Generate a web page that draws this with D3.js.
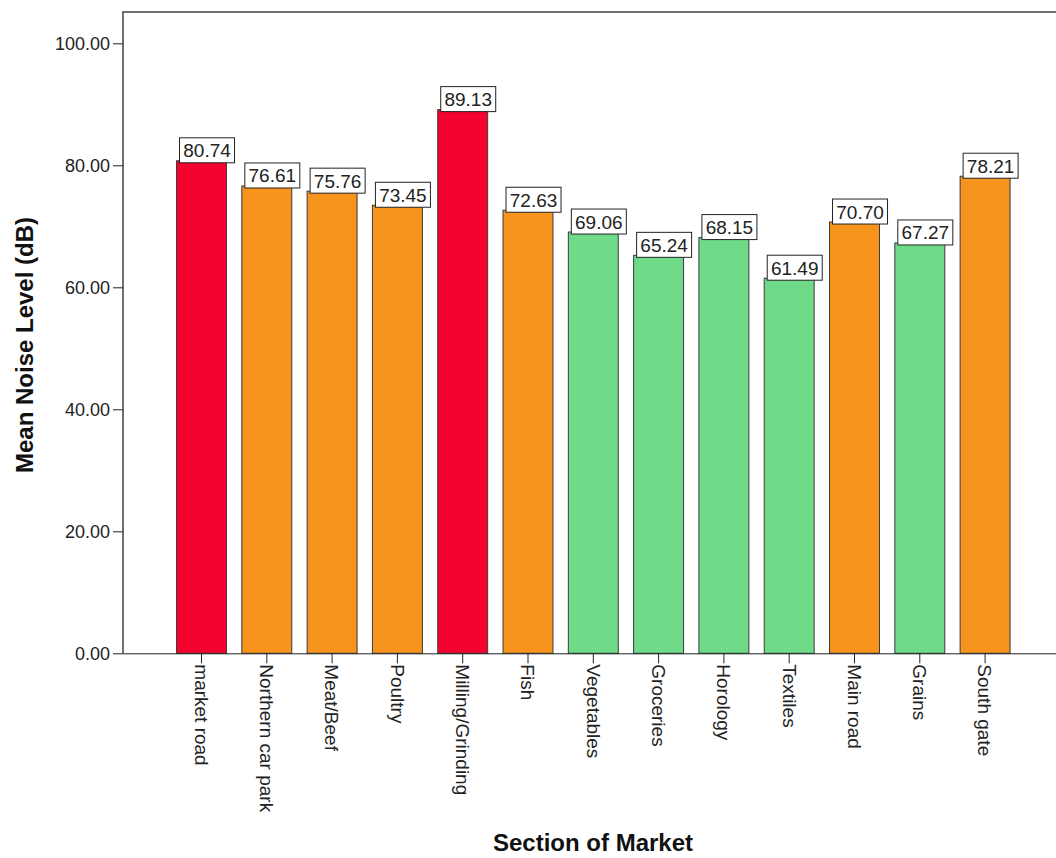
<!DOCTYPE html>
<html>
<head>
<meta charset="utf-8">
<script src="https://cdn.jsdelivr.net/npm/d3@7"></script>
<style>
  html, body { margin: 0; padding: 0; background: #fff; }
  svg { display: block; font-family: Arial, "Liberation Sans", sans-serif; }
</style>
</head>
<body>
<svg id="chart" width="1056" height="858"></svg>
<script>
const sections = [
  "market road", "Northern car park", "Meat/Beef", "Poultry", "Milling/Grinding",
  "Fish", "Vegetables", "Groceries", "Horology", "Textiles", "Main road", "Grains", "South gate"
];
const meanNoise = [80.74, 76.61, 75.76, 73.45, 89.13, 72.63, 69.06, 65.24, 68.15, 61.49, 70.70, 67.27, 78.21];
const noiseBand = ["high", "mid", "mid", "mid", "high", "mid", "low", "low", "low", "low", "mid", "low", "mid"];
const yTicks = [0, 20, 40, 60, 80, 100];

const bandColor = { high: "#f4032f", mid: "#f7941e", low: "#6fda88" };
const font = "Arial, 'Liberation Sans', sans-serif";

const svg = d3.select("#chart");
const frameLeft = 123, frameTop = 12, frameRight = 1056;

const y = d3.scaleLinear().domain([0, 100]).range([653.3, 43.3]);
const step = 65.3;
const x = d3.scaleBand()
  .domain(sections)
  .range([201.5 - step / 2, 201.5 + step * 12.5])
  .paddingInner(0.235)
  .paddingOuter(0.1175);

// frame
svg.append("path")
  .attr("d", `M${frameLeft},${y(0)}V${frameTop}H${frameRight}`)
  .attr("fill", "none")
  .attr("stroke", "#707070")
  .attr("stroke-width", 2);

// bars
svg.append("g")
  .selectAll("rect")
  .data(sections)
  .join("rect")
  .attr("x", d => x(d))
  .attr("y", (d, i) => y(meanNoise[i]))
  .attr("width", x.bandwidth())
  .attr("height", (d, i) => y(0) - y(meanNoise[i]))
  .attr("fill", (d, i) => bandColor[noiseBand[i]])
  .attr("stroke", "#3a3a3a")
  .attr("stroke-width", 1);

// y axis
const yAxis = svg.append("g")
  .attr("transform", `translate(${frameLeft},0)`)
  .call(d3.axisLeft(y).tickValues(yTicks).tickFormat(d3.format(".2f")).tickSize(10).tickPadding(3));
yAxis.select(".domain").remove();
yAxis.selectAll("line").attr("stroke", "#222");
yAxis.selectAll("text").attr("font-size", 18).attr("fill", "#222").attr("font-family", font);

// x axis
const xAxis = svg.append("g")
  .attr("transform", `translate(0,${y(0)})`)
  .call(d3.axisBottom(x).tickSize(10).tickSizeOuter(0).tickPadding(2));
xAxis.select(".domain")
  .attr("d", `M${frameLeft},0.5H${frameRight}`)
  .attr("stroke", "#222");
xAxis.selectAll("line").attr("stroke", "#222");
xAxis.selectAll("text")
  .attr("font-size", 19)
  .attr("fill", "#222")
  .attr("font-family", font)
  .attr("transform", "rotate(90)")
  .attr("x", 11)
  .attr("y", 0)
  .attr("dy", "0.35em")
  .attr("text-anchor", "start");

// value labels
const labels = svg.append("g")
  .selectAll("g")
  .data(sections)
  .join("g")
  .attr("transform", (d, i) => `translate(${x(d) + 3},${y(meanNoise[i]) - 23})`);

labels.append("rect")
  .attr("width", 55)
  .attr("height", 25)
  .attr("fill", "#fff")
  .attr("stroke", "#222")
  .attr("stroke-width", 1);

labels.append("text")
  .attr("x", 27.5)
  .attr("y", 19.5)
  .attr("text-anchor", "middle")
  .attr("font-size", 19)
  .attr("fill", "#222")
  .text((d, i) => meanNoise[i].toFixed(2));

// axis titles
svg.append("text")
  .attr("transform", "translate(33,345) rotate(-90)")
  .attr("text-anchor", "middle")
  .attr("font-size", 24)
  .attr("font-weight", "bold")
  .attr("fill", "#111")
  .text("Mean Noise Level (dB)");

svg.append("text")
  .attr("x", 593)
  .attr("y", 851)
  .attr("text-anchor", "middle")
  .attr("font-size", 24)
  .attr("font-weight", "bold")
  .attr("fill", "#111")
  .text("Section of Market");
</script>
</body>
</html>
